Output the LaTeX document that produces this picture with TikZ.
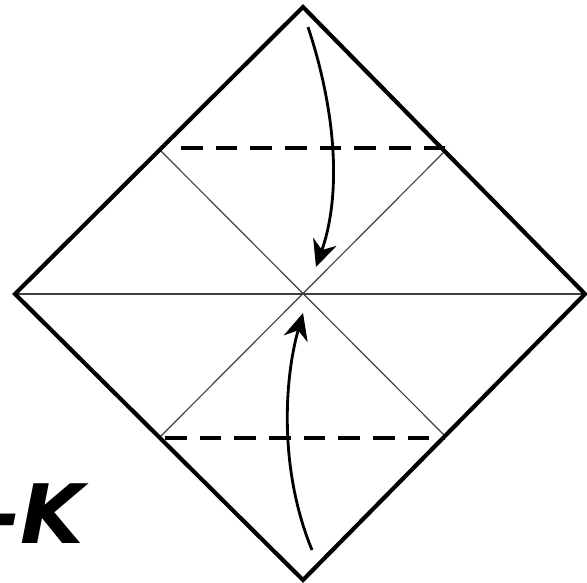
\documentclass[tikz,border=0pt]{standalone}
\usepackage{fontspec}
\usetikzlibrary{arrows.meta}
\newfontfamily\handfont{DejaVu Sans}

\begin{document}
\begin{tikzpicture}[x=0.03cm, y=-0.03cm, >={Stealth[length=0.8cm,width=0.74cm]}]
  \tikzset{
    edge/.style={draw, line width=0.125cm, line join=miter},
    crease/.style={draw, line width=0.035cm, black!75},
    fold/.style={draw, line width=0.115cm, dash pattern=on 0.65cm off 0.39cm},
    flip/.style={draw, line width=0.085cm, ->},
  }
  \useasboundingbox (0,0) rectangle (587,582);

  \coordinate (top) at (303,7);
  \coordinate (left) at (15,294);
  \coordinate (right) at (585,294);
  \coordinate (bottom) at (303,580);
  \coordinate (mid) at (303,294);
  \coordinate (ul) at (160,150);
  \coordinate (ur) at (446,150);
  \coordinate (ll) at (160,437);
  \coordinate (lr) at (446,437);
  \coordinate (fa) at (181,148);
  \coordinate (fb) at (445,148);
  \coordinate (fc) at (165,438);
  \coordinate (fd) at (445,438);
  \coordinate (sa) at (308,27);
  \coordinate (ea) at (316,267);
  \coordinate (sb) at (312,550);
  \coordinate (eb) at (303,313);

  \draw [crease] (left) -- (right);
  \draw [crease] (ul) -- (lr);
  \draw [crease] (ur) -- (ll);
  \draw [edge] (top) -- (right) -- (bottom) -- (left) -- cycle;
  \draw [fold] (fa) -- (fb);
  \draw [fold] (fc) -- (fd);
  \draw [flip] (sa) .. controls (334,105) and (343,190) .. (ea);
  \draw [flip] (sb) .. controls (279,470) and (284,380) .. (eb);

  \node [anchor=west, inner sep=0pt, font=\handfont\bfseries\itshape\fontsize{70}{70}\selectfont] (word) at (-14,514) {-K};
\end{tikzpicture}
\end{document}
